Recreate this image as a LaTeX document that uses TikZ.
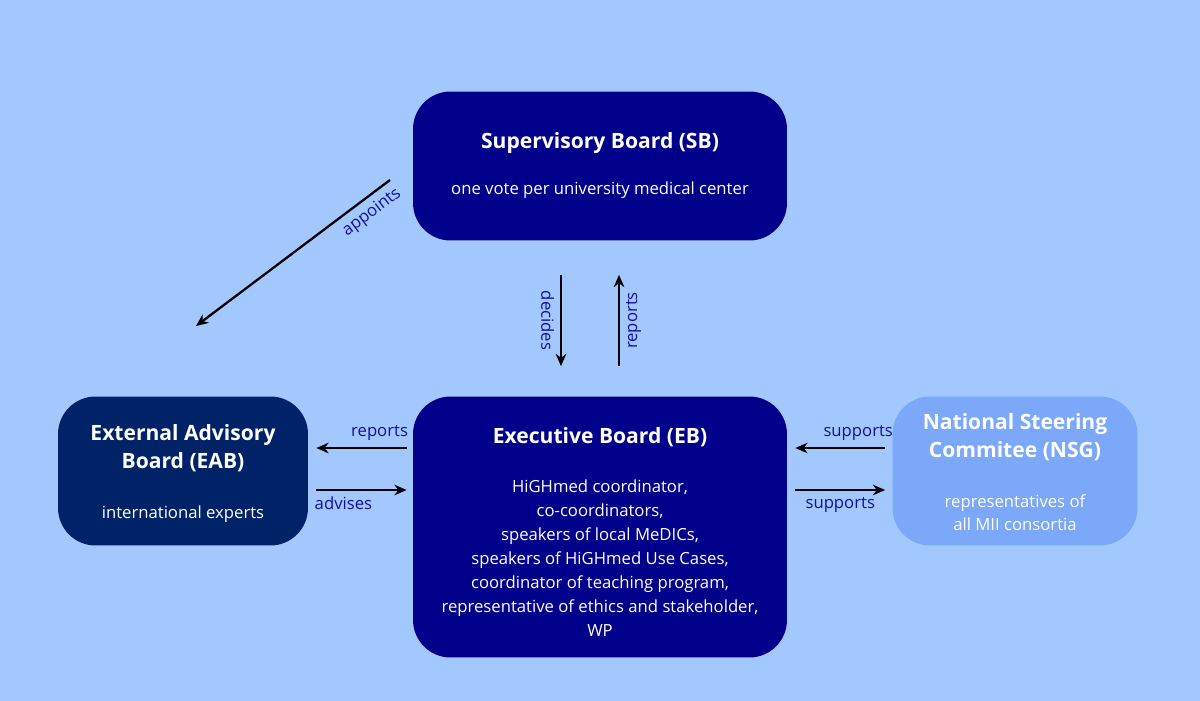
\documentclass[tikz,border=0pt]{standalone}
\usepackage{fontspec}
\setmainfont{Open Sans}
\usetikzlibrary{calc, positioning, arrows.meta}
\definecolor{bgblue}{HTML}{A3C8FF}
\definecolor{navy}{HTML}{00008B}
\definecolor{deepnavy}{HTML}{002266}
\definecolor{lightbox}{HTML}{7BA8F8}
\definecolor{labelblue}{HTML}{1010A0}
\begin{document}
\begin{tikzpicture}[x=0.02cm, y=-0.02cm,
    board/.style={rounded corners=0.75cm, text=white, align=center, inner sep=0pt},
    flow/.style={-{Stealth[length=7pt,width=6pt]}, line width=1.3pt},
    lbl/.style={text=labelblue, font=\fontsize{9.5}{12}\selectfont}]
  \useasboundingbox (0,0) rectangle (1200,700);
  \fill[bgblue] (-10,-10) rectangle (1210,710);

  % Boards
  \node (sb) [board, fill=navy, minimum width=7.48cm, minimum height=2.98cm] at (600,166) {};
  \node [text=white, font=\bfseries\fontsize{12}{14}\selectfont] at (600,143) {Supervisory Board (SB)};
  \node [text=white, font=\fontsize{9.5}{12}\selectfont] at (600,190) {one vote per university medical center};

  \node (eb) [board, fill=navy, minimum width=7.48cm, minimum height=5.22cm] at (600,527) {};
  \node [text=white, font=\bfseries\fontsize{12}{14}\selectfont] at (600,437) {Executive Board (EB)};
  \node [text=white, align=center, font=\fontsize{9.5}{13.6}\selectfont, anchor=north] at (600,474)
    {HiGHmed coordinator,\\co-coordinators,\\speakers of local MeDICs,\\speakers of HiGHmed Use Cases,\\coordinator of teaching program,\\representative of ethics and stakeholder,\\WP};

  \node (eab) [board, fill=deepnavy, minimum width=5cm, minimum height=2.98cm] at (183,471) {};
  \node [text=white, align=center, font=\bfseries\fontsize{12}{16}\selectfont] at (183,448) {External Advisory\\Board (EAB)};
  \node [text=white, font=\fontsize{9.5}{12}\selectfont] at (183,514) {international experts};

  \node (nsg) [board, fill=lightbox, minimum width=4.9cm, minimum height=2.98cm] at (1015,471) {};
  \node [text=white, align=center, font=\bfseries\fontsize{12}{16}\selectfont] at (1015,437) {National Steering\\Commitee (NSG)};
  \node [text=white, align=center, font=\fontsize{9.5}{13}\selectfont] at (1015,513) {representatives of\\all MII consortia};

  % Connectors
  \coordinate (appA) at (390,180);
  \coordinate (appB) at (196,326);
  \draw[flow] (appA) -- (appB) node[lbl, pos=0.14, below, sloped] {appoints};

  \draw[flow] ($(sb.south)+(-39,34)$) -- ($(eb.north)+(-39,-30)$)
    node[lbl, midway, rotate=-90, below] {decides};
  \draw[flow] ($(eb.north)+(19,-30)$) -- ($(sb.south)+(19,34)$)
    node[lbl, midway, rotate=90, below] {reports};

  \draw[flow] ($(eb.west)+(-6,-79)$) -- ($(eab.east)+(8,-23)$)
    node[lbl, pos=0.3, above] {reports};
  \draw[flow] ($(eab.east)+(8,19)$) -- ($(eb.west)+(-6,-37)$)
    node[lbl, pos=0.3, below] {advises};

  \draw[flow] ($(nsg.west)+(-7,-23)$) -- ($(eb.east)+(8,-79)$)
    node[lbl, pos=0.3, above] {supports};
  \draw[flow] ($(eb.east)+(8,-37)$) -- ($(nsg.west)+(-7,19)$)
    node[lbl, midway, below] {supports};
\end{tikzpicture}
\end{document}
